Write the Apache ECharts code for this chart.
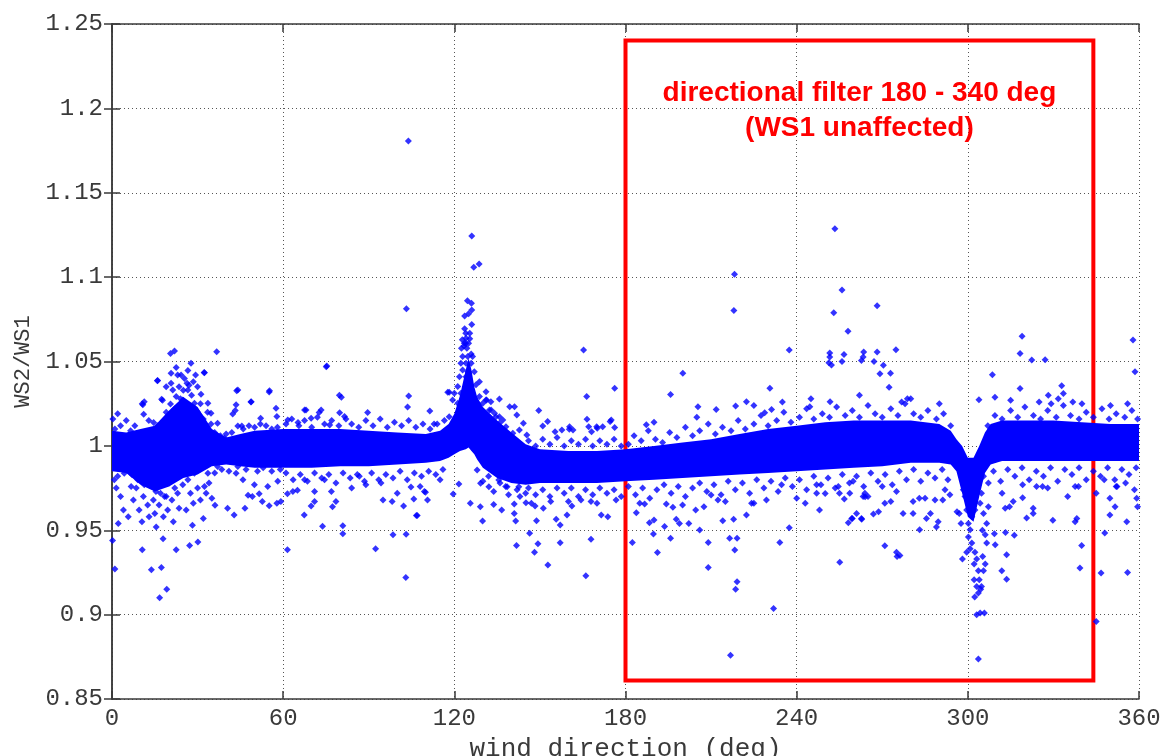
<!DOCTYPE html>
<html>
<head>
<meta charset="utf-8">
<title>WS2/WS1 vs wind direction</title>
<script src="https://cdn.jsdelivr.net/npm/echarts@6/dist/echarts.min.js"></script>
<style>
html,body{margin:0;padding:0;background:#fff;}
.chart{width:1165px;height:756px;}
</style>
</head>
<body>
<div class="chart"></div>
<script>
// axis limits (deg / ratio)
var xRange=[0,360];
var yRange=[0.85,1.25];

// dense core of the scatter: lower / upper edge read every few degrees
var bandX=   [0,5,10,15,20,25,30,35,40,45,50,60,70,80,90,100,110,115,118,120,122,124,125,126,127,128,130,135,140,145,150,160,170,180,190,200,210,220,230,240,250,260,270,280,290,294,296,298,300,302,304,306,308,312,320,330,340,350,360];
var bandLow= [0.985,0.984,0.977,0.973,0.976,0.981,0.983,0.988,0.989,0.988,0.987,0.987,0.987,0.988,0.988,0.989,0.990,0.991,0.993,0.995,0.997,0.998,0.999,0.997,0.995,0.992,0.987,0.981,0.978,0.977,0.978,0.978,0.978,0.979,0.980,0.981,0.982,0.983,0.984,0.985,0.986,0.987,0.988,0.990,0.990,0.989,0.985,0.972,0.958,0.955,0.970,0.984,0.989,0.991,0.991,0.991,0.991,0.991,0.991];
var bandHigh=[1.009,1.008,1.010,1.012,1.021,1.029,1.023,1.010,1.005,1.007,1.009,1.010,1.010,1.010,1.009,1.008,1.007,1.009,1.013,1.019,1.030,1.045,1.052,1.045,1.035,1.029,1.023,1.015,1.008,1.001,0.998,0.997,0.997,0.998,1.000,1.002,1.004,1.007,1.010,1.012,1.014,1.015,1.015,1.015,1.013,1.009,1.004,1.000,0.993,0.993,1.000,1.008,1.013,1.015,1.015,1.015,1.014,1.013,1.013];

// single points 0-60 deg (hump near 25 deg)
var leftPoints=[
[0.3,1.016],[2,1.019],[0.2,0.944],[1,0.927],[2.2,0.954],[5.7,0.958],[10.6,0.9385],[13.8,0.9266],[17.3,0.928],[16.7,0.910],[19.2,0.915],[17.9,0.945],[22.5,0.9385],[27.2,0.941],[30.1,0.943],[28.2,0.953],[32,0.957],
[20.5,1.0548],[21.9,1.0562],[36.7,1.0558],[27.7,1.049],[22.5,1.0464],[26.6,1.0446],[20.7,1.043],[24.2,1.042],[32.4,1.0434],[16,1.0387],[26.3,1.0371],[25.4,1.040],[20.7,1.0371],[21.3,1.0331],[26.6,1.0331],[31.2,1.0306],[27.9,1.030],[17.4,1.0276],[22.5,1.0292],[20.5,1.0248],[24.8,1.0272],[28.9,1.0252],[11.3,1.0262],[10.8,1.0243],[33.6,1.0252],[11.1,1.0187],[26.6,1.0203],[29.8,1.0203],[30.6,1.0183],[34.7,1.0193],[12.9,1.015],[14.6,1.0138],[21.3,1.0178],[28.3,1.0154],[31.2,1.0154],[34.7,1.013],[37,1.0134],[17.8,1.0114],[24.2,1.0114],[26.3,1.0085],[17.2,1.0085],
[44.1,1.0331],[55.2,1.0326],[48.8,1.0262],[43.5,1.0243],[43.2,1.0209],[42.3,1.0189],[57.5,1.0223],[52.1,1.0164],[57.8,1.0174],[44.1,1.0118],[45.5,1.0118],[39.4,1.0045],[35.3,1.0036],[33,1.0055],[15.9,1.0386],[43.7,1.0327],[55.1,1.032],[48.7,1.026],[10.6,1.025],[17.7,1.027],[29.3,1.042],[23,1.042],[32.3,1.0435],
[23.5,1.035],[25,1.033],[27,1.036],[28.5,1.038],[30,1.035],[24,1.028],[26,1.025],[29,1.022],[31,1.025],[22,1.022],[19,1.020],[21,1.012],[23,1.016],[25.5,1.018],[27,1.014],[29.5,1.012],[32,1.016],[33.5,1.020],[19,1.035],[18.5,1.008],[16,1.012],[13,1.008],[8,1.012],[5,1.015],[3,1.012],[1,1.010],[6.5,1.009],[9.5,1.007],[11.5,1.005],[14,1.004],[36,1.008],[38,1.006],[40,1.007],[42,1.008],[46,1.010],[48,1.012],[50,1.011],[52,1.013],[54,1.012],[56,1.010],[58,1.011],
[0.8,0.980],[4.3,0.9838],[6.7,0.976],[11.3,0.977],[13.7,0.979],[15.4,0.973],[18.4,0.970],[23,0.972],[24.8,0.977],[28.9,0.9838],[26.6,0.980],[32.4,0.976],[33.6,0.9838],[37,0.9878],[40,0.9917],[43.5,0.9838],[44.1,0.9878],[45.9,0.980],[49.9,0.977],[54.6,0.976],[58.1,0.979],
[1.5,0.975],[3,0.970],[4,0.962],[7.5,0.968],[8.5,0.975],[9.5,0.962],[10.5,0.955],[11,0.970],[12.5,0.965],[13,0.958],[14.5,0.968],[15,0.960],[15.5,0.952],[16,0.978],[16.5,0.965],[17,0.972],[18,0.958],[19,0.970],[19.5,0.962],[20,0.978],[21,0.968],[21.5,0.955],[22,0.975],[23.5,0.963],[25,0.984],[26,0.962],[27.5,0.972],[28.5,0.966],[30,0.975],[31,0.968],[33,0.972],[34,0.978],[35,0.969],[36,0.984],[36.1,0.9648],[40.5,0.963],[42.8,0.959],[46.6,0.963],[47.7,0.9707],[49.2,0.970],[51.6,0.9717],[52.7,0.967],[55.1,0.9645],[57.8,0.966],[59.2,0.967],
[2,0.982],[7,0.983],[9,0.980],[12,0.984],[14,0.986],[17.5,0.982],[20.5,0.985],[22.5,0.986],[38.5,0.986],[41,0.985],[47,0.986],[51,0.985],[53,0.987],[56,0.985],[59,0.986]
];

// single points 60-180 deg (peak near 125 deg)
var middlePoints=[
[61.5,0.9385],[73.8,0.9523],[80.9,0.9527],[80.9,0.948],[92.4,0.939],[103,0.922],[98.5,0.9473],[103.1,0.9477],[106.7,0.9588],[102.2,0.9644],[67.4,0.959],[69.8,0.9644],[61.5,0.9717],[94.3,0.978],[98.2,0.967],[104.8,0.9756],[109.5,0.973],[110.6,0.968],[86.7,0.982],[77.3,0.964],[78.5,0.967],[65,0.9737],[63.4,0.973],[67.5,0.980],[71,0.973],[74.5,0.980],[76.9,0.973],
[75.3,1.0473],[79.7,1.030],[104,1.0296],[103.6,1.023],[117.7,1.0318],[89.6,1.0198],[68,1.0213],[72.6,1.0198],[75.1,1.0469],[80.4,1.0288],[67.5,1.0213],[73.3,1.0213],[79.8,1.0197],[69.8,1.0164],[81.5,1.0174],[61.6,1.0154],[65.2,1.0138],[76.3,1.0124],[103.9,1.1807],[103.2,1.0813],[111.4,1.0207],[112.9,1.013],
[61,1.013],[63,1.016],[65.5,1.012],[67.5,1.015],[70,1.011],[72,1.017],[74.5,1.013],[77,1.015],[79.5,1.012],[82,1.016],[84,1.013],[86.5,1.011],[89,1.015],[91.5,1.012],[94,1.016],[96.5,1.011],[99,1.014],[101.5,1.012],[104,1.015],[106.5,1.011],[109,1.013],[111.5,1.010],[114,1.013],[116.5,1.015],
[61,0.984],[63.5,0.980],[66,0.983],[68.5,0.979],[71,0.984],[73.5,0.981],[76,0.983],[78.5,0.978],[81,0.984],[83.5,0.981],[86,0.983],[88.5,0.979],[91,0.984],[93.5,0.980],[96,0.983],[98.5,0.981],[101,0.985],[103.5,0.980],[106,0.984],[108.5,0.982],[111,0.985],[113.5,0.983],[116,0.986],[84,0.975],[89,0.977],[100,0.972],[108,0.976],[115,0.980],[71,0.967],[95,0.968],
[124.6,1.086],[126,1.0845],[126.1,1.0805],[125,1.0783],[123.6,1.077],[126.1,1.072],[123.6,1.0694],[124,1.0667],[125.4,1.0667],[125.4,1.0635],[122.8,1.0629],[124,1.0608],[123.4,1.0592],[126.1,1.1244],[126.8,1.1058],[128.7,1.1078],
[124.1,1.0638],[123.5,1.0608],[125,1.0608],[122.5,1.0578],[124.4,1.0578],[125.9,1.0545],[122.9,1.0529],[124.7,1.0529],[126.4,1.0529],[122.3,1.049],[124.1,1.049],[125.9,1.049],[122.9,1.045],[124.7,1.044],[127,1.044],[121.8,1.041],[124.1,1.041],[128.8,1.038],[121.2,1.0352],[124.7,1.0352],[127.6,1.0362],[120,1.0312],[122.3,1.0312],[125.3,1.0312],[118.2,1.0318],[119.4,1.0272],[121.2,1.0252],[123.5,1.0272],[126.4,1.0272],[128.8,1.0292],[130,1.0252],[131.1,1.0272],[121.8,1.0213],[124.1,1.0193],[127.6,1.0193],[132.3,1.0213],[134.6,1.0173],[118.2,1.0173],[120.6,1.0143],[125.3,1.0153],[130,1.0153],[135.8,1.0134],[138.1,1.0114],[128.8,1.0094],[133.4,1.0075],[140.5,1.0075],[142.8,1.0094],
[131.1,1.0321],[131.3,1.0272],[132.8,1.0262],[134.1,1.0193],[135.8,1.0173],[137,1.0153],[139.4,1.0232],[141.1,1.0232],[141.9,1.0183],[144.2,1.0134],[145.4,1.0064],[151,1.0118],[157.7,1.0094],[160.4,1.0114],[161.6,1.0094],[167.1,1.0114],[169.9,1.0114],
[165.3,1.0568],[176.2,1.0341],[166.4,1.0292],[166.5,1.0158],[174.6,1.0144],[149.6,1.0209],[135.8,1.0278],[132.9,1.0213],[155.3,1.0084],[160.3,1.0098],[152.7,1.0144],[170.1,1.0104],[168.1,1.0084],
[125.6,0.966],[129.1,0.964],[133.8,0.9653],[129.9,0.9555],[136.6,0.962],[141,0.9656],[141,0.960],[141.5,0.9555],[145.1,0.9663],[146.4,0.9482],[141.8,0.941],[149.3,0.942],[148.1,0.937],[152.8,0.9294],[157.1,0.9426],[157.1,0.9531],[155.7,0.9565],[148.8,0.9557],[148.3,0.9644],[151.2,0.963],[153.8,0.967],[159.5,0.959],[161.2,0.9644],[164.4,0.968],[167.9,0.967],[167.9,0.9446],[166.1,0.923],[107,0.9587],[105.8,0.9685],[109.9,0.9725],[119.6,0.9715],[121.6,0.9774],[128,0.9857],[129.2,0.9778],[132.1,0.9758],[133.8,0.9729],[135.6,0.9798],[138.5,0.9758],[142.6,0.9758],[145,0.9719],
[146,1.003],[148.5,1.000],[151,1.004],[153.5,1.001],[156,1.005],[158.5,1.000],[161,1.003],[163.5,1.001],[166,1.004],[168.5,1.000],[171,1.003],[173.5,1.001],[176,1.004],[178.5,1.000],
[146,0.975],[148.5,0.971],[151,0.974],[153.5,0.970],[156,0.975],[158.5,0.972],[161,0.975],[163.5,0.970],[166,0.974],[168.5,0.971],[171,0.975],[173.5,0.972],[176,0.974],[178.5,0.970],
[138,0.976],[142,0.974],[136,0.978],[139,0.971],[143,0.970],[132,0.982],[130,0.979],[147,0.966],[160,0.967],[170,0.966]
];

// single points 180-360 deg (dip near 302 deg)
var rightPoints=[
[237.4,1.0568],[200.1,1.043],[195.8,1.0305],[205.4,1.0232],[211.8,1.0216],[218.6,1.0236],[222.4,1.0262],[230.6,1.0341],[231.2,1.0216],[228.8,1.0197],[244.6,1.0232],[251.7,1.0262],[175,1.0154],[176.2,1.0109],[187.3,1.0125],[172,1.0114],
[171.5,0.959],[173.8,0.958],[176.7,0.968],[183.8,0.9604],[182.4,0.9427],[186.7,0.9656],[189.8,0.9478],[188.4,0.9545],[190,0.9561],[191.2,0.9368],[193.7,0.9522],[194.3,0.9656],[195.8,0.9452],[196.6,0.9636],[197.8,0.9565],[198.9,0.954],[202.2,0.954],[206,0.9501],[204.6,0.962],[209,0.9427],[209,0.928],[207.5,0.964],[210,0.9709],[212.4,0.968],[214.1,0.9557],[216.5,0.9452],[217.9,0.9565],[218.3,0.9383],[219.1,0.9195],[218.6,0.915],[219.1,0.9452],[224.2,0.966],[222.4,0.959],[229.4,0.968],[234.1,0.9427],[237.4,0.9515],[231.9,0.9037],[234.7,0.977],[247,0.977],[247,0.972],[250,0.9718],[254.6,0.976],[256.7,0.9685],[255.1,0.931],[258.1,0.9544],[259.3,0.957],[262.8,0.9565],[264,0.9699],[266.9,0.9597],[268.7,0.961],[216.8,0.876],
[253.4,1.1286],[218.2,1.1017],[218,1.0802],[255.9,1.0924],[268.2,1.0831],[253,1.0789],[258,1.0679],[251.6,1.055],[251.6,1.0526],[256.6,1.0542],[255.9,1.050],[263.5,1.0556],[263.3,1.0526],[262.7,1.0506],[268.2,1.0556],[267.1,1.050],[274.8,1.057],[270.4,1.0478],[251.3,1.0492],[252.2,1.048],[269.2,1.0427],[308.6,1.0422],
[303.9,1.0273],[309.5,1.0288],[318.3,1.034],[332.9,1.0357],[333.5,1.031],[328.2,1.030],[331.7,1.028],[329.2,1.025],[336.8,1.026],[276.8,1.026],[278.8,1.028],[272.4,1.0347],[272.9,1.043],[358.6,1.044],[318.3,1.0548],[322.4,1.0509],[327.1,1.051],[319,1.065],[357.9,1.0627],
[270.9,0.9408],[275,0.937],[276.2,0.935],[275.2,0.9345],[283.1,0.9503],[339.3,0.9276],[339.9,0.941],[348,0.9484],[346.7,0.9246],[345,0.896],[356,0.925],[355.7,0.955],[349.8,0.959],[329.8,0.956],[337.6,0.955],[338.2,0.957],[322.9,0.963],[322.9,0.960],[320.6,0.9572],[316.3,0.947],[261,0.960],[262.7,0.957],[259.5,0.957],[277.3,0.960],[280.8,0.960],[286.9,0.960],[285.5,0.957],[289,0.952],[289.6,0.955],[270.9,0.966],[273,0.967],[280.8,0.967],[288.5,0.968],[291.2,0.968],[293.7,0.971],[315.9,0.967],[319.2,0.9693],[313.1,0.963],[314.6,0.964],[359.2,0.969],[359.5,0.964],[351.6,0.964],[349.8,0.969],[358.4,0.974],[352.3,0.976],[355.3,0.978],[337.6,0.976],[338.8,0.976],[324.1,0.976],[326.2,0.976],[319.2,0.977],[347.8,0.980],[263.3,0.970],[263.9,0.972],[258.6,0.972],[259.8,0.979],[270,0.976],
[298.1,0.933],[299.6,0.937],[300.2,0.946],[301.4,0.9424],[300.8,0.939],[302.5,0.937],[303.1,0.933],[302.2,0.930],[305.2,0.9345],[306.1,0.930],[305.5,0.926],[303.7,0.926],[302.2,0.9207],[304,0.9207],[303.1,0.9167],[304.8,0.9167],[304.5,0.915],[303.7,0.9128],[302.4,0.9105],[303.1,0.900],[304.3,0.901],[305.8,0.901],[303.7,0.8737],[306.6,0.9424],[309.6,0.9414],[309.3,0.948],[313.6,0.9355],[311.9,0.926],[313.6,0.921],[313.2,0.9487],[306.1,0.9474],[305.1,0.950],[306.6,0.954],[300.8,0.9503],[300.2,0.954],[301.4,0.958],[299.6,0.962],[302.5,0.962],[305.5,0.960],[307.2,0.964],[304.3,0.966],[300.8,0.967],[299,0.970],[301.9,0.972],[304.8,0.972],[298.4,0.974],[300.8,0.977],[303.7,0.978],[299.6,0.982],[302.5,0.983],[305.5,0.982],[307.2,0.978],[298.4,0.988],[301.4,0.990],[304.8,0.990],[297.6,0.954],[297,0.960],[296.2,0.961],
[181,1.001],[183,1.006],[185.5,1.003],[188,1.009],[190.5,1.004],[193,1.002],[195.5,1.008],[198,1.005],[201,1.011],[203.5,1.006],[206,1.009],[209,1.013],[211.5,1.007],[214,1.011],[217,1.009],[219.5,1.015],[222,1.010],[225,1.013],[227.5,1.018],[230,1.012],[233,1.015],[235.5,1.020],[238,1.014],[241,1.017],[243.5,1.022],[246,1.016],[249,1.019],[251.5,1.017],[254,1.023],[257,1.018],[259.5,1.021],[262,1.017],[265,1.024],[267.5,1.019],[270,1.017],[273,1.022],[275.5,1.018],[278,1.025],[281,1.019],[283.5,1.017],[286,1.021],[289,1.016],[291.5,1.019],[294,1.012],[307,1.012],[309.5,1.018],[312,1.016],[315,1.021],[317.5,1.017],[320,1.023],[323,1.018],[325.5,1.016],[328,1.021],[331,1.017],[333.5,1.024],[336,1.018],[339,1.016],[341.5,1.020],[344,1.017],[347,1.022],[349.5,1.016],[352,1.019],[355,1.017],[357.5,1.021],[359.5,1.016],
[181,0.976],[183.5,0.971],[186,0.975],[188.5,0.969],[191,0.974],[193.5,0.977],[196,0.972],[198.5,0.976],[201,0.970],[203.5,0.975],[206,0.978],[208.5,0.973],[211,0.977],[213.5,0.971],[216,0.979],[218.5,0.974],[221,0.978],[223.5,0.972],[226,0.980],[228.5,0.975],[231,0.979],[233.5,0.973],[236,0.981],[238.5,0.976],[241,0.980],[243.5,0.974],[246,0.982],[248.5,0.977],[251,0.981],[253.5,0.975],[256,0.983],[258.5,0.978],[261,0.982],[263.5,0.976],[266,0.984],[268.5,0.979],[271,0.983],[273.5,0.977],[276,0.985],[278.5,0.980],[281,0.986],[283.5,0.979],[286,0.984],[288.5,0.981],[291,0.986],[293,0.980],[309,0.985],[311.5,0.979],[314,0.986],[316.5,0.982],[319,0.987],[321.5,0.980],[324,0.985],[326.5,0.982],[329,0.987],[331.5,0.979],[334,0.986],[336.5,0.983],[339,0.987],[341.5,0.980],[344,0.985],[346.5,0.982],[349,0.987],[351.5,0.980],[354,0.986],[356.5,0.983],[359,0.987],
[185,0.966],[200,0.965],[215,0.967],[225,0.966],[240,0.969],[255,0.972],[265,0.970],[275,0.973],[285,0.969],[292,0.974],[312,0.972],[328,0.975],[335,0.970],[345,0.972],[352,0.976],[243,0.966],[248,0.962],[283,0.969],
[190,1.014],[205,1.017],[225,1.024],[235,1.026],[245,1.028],[262,1.030],[280,1.028],[290,1.025],[315,1.027],[325,1.026],[340,1.025],[350,1.024],[356,1.025]
];

// red filter box and its note
var filterBoxX=[180,344];
var filterBoxY=[0.861,1.2402];
var filterNote=['directional filter 180 - 340 deg','(WS1 unaffected)'];

(function(){
    var myChart=echarts.init(document.querySelector('.chart'),null,{renderer:'canvas'});
    var mono='"Liberation Mono", "DejaVu Sans Mono", monospace';
    var axisColor='#3a3a3a';
    var gridLine={show:true,lineStyle:{color:'#555',width:1,type:[1,3]}};

    var option={
        animation:false,
        backgroundColor:'#fff',
        // outerBoundsMode none: keep the plot box fixed even though the x name touches the bottom edge
        grid:{left:112,top:24,right:26,bottom:57,containLabel:false,outerBoundsMode:'none'},
        xAxis:[{
            type:'value',min:xRange[0],max:xRange[1],interval:60,
            name:'wind direction (deg)',nameLocation:'middle',nameGap:29,
            nameTextStyle:{fontFamily:mono,fontSize:26,color:axisColor},
            axisLine:{show:true,lineStyle:{color:axisColor,width:1.5}},
            axisTick:{show:true,inside:true,length:8,lineStyle:{color:axisColor,width:1.5}},
            axisLabel:{fontFamily:mono,fontSize:24,color:axisColor,margin:8},
            splitLine:gridLine
        },{
            type:'value',position:'top',min:xRange[0],max:xRange[1],interval:60,
            axisLine:{show:true,lineStyle:{color:axisColor,width:1.5}},
            axisTick:{show:true,inside:true,length:8,lineStyle:{color:axisColor,width:1.5}},
            axisLabel:{show:false},splitLine:{show:false}
        }],
        yAxis:[{
            type:'value',min:yRange[0],max:yRange[1],interval:0.05,
            name:'WS2/WS1',nameLocation:'middle',nameGap:76,nameRotate:90,
            nameTextStyle:{fontFamily:mono,fontSize:22,color:axisColor},
            axisLine:{show:true,lineStyle:{color:axisColor,width:1.5}},
            axisTick:{show:true,inside:true,length:8,lineStyle:{color:axisColor,width:1.5}},
            axisLabel:{fontFamily:mono,fontSize:24,color:axisColor,margin:9},
            splitLine:gridLine
        },{
            type:'value',position:'right',min:yRange[0],max:yRange[1],interval:0.05,
            axisLine:{show:true,lineStyle:{color:axisColor,width:1.5}},
            axisTick:{show:true,inside:true,length:8,lineStyle:{color:axisColor,width:1.5}},
            axisLabel:{show:false},splitLine:{show:false}
        }],
        series:[
            {
                // dense core drawn as one filled polygon through the axes
                type:'custom',
                silent:true,
                z:2,
                renderItem:function(params,api){
                    if(params.dataIndex!==0) return;
                    var pts=[];
                    for(var i=0;i<bandX.length;i++) pts.push(api.coord([bandX[i],bandHigh[i]]));
                    for(var j=bandX.length-1;j>=0;j--) pts.push(api.coord([bandX[j],bandLow[j]]));
                    return {type:'polygon',shape:{points:pts},style:{fill:'#0000ff'}};
                },
                encode:{x:0,y:[1,2]},
                data:bandX.map(function(x,i){return [x,bandLow[i],bandHigh[i]];})
            },
            {
                type:'scatter',
                silent:true,
                z:3,
                symbol:'diamond',
                symbolSize:7,
                itemStyle:{color:'#0000ff'},
                data:[].concat(leftPoints,middlePoints,rightPoints)
            },
            {
                // filter box on top of the points
                type:'scatter',
                silent:true,
                z:5,
                data:[],
                markArea:{
                    silent:true,
                    itemStyle:{color:'rgba(255,255,255,0)',borderColor:'#ff0000',borderWidth:4},
                    label:{
                        show:true,position:'insideTop',distance:37,
                        formatter:filterNote.join('\n'),
                        fontFamily:'"Liberation Sans", Arial, sans-serif',
                        fontWeight:'bold',fontSize:28,lineHeight:35,color:'#ff0000',align:'center'
                    },
                    data:[[{coord:[filterBoxX[0],filterBoxY[1]]},{coord:[filterBoxX[1],filterBoxY[0]]}]]
                }
            }
        ]
    };
    myChart.setOption(option);
    window.addEventListener('resize',function(){
        myChart.resize();
    });
})();
</script>
</body>
</html>
